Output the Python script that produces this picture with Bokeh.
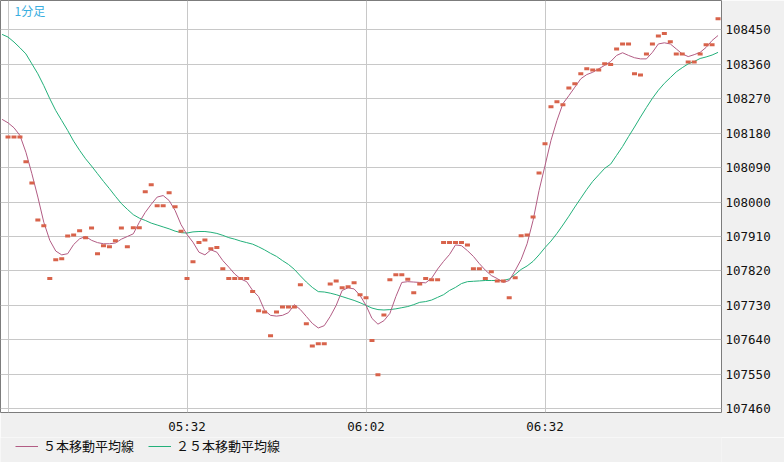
from bokeh.plotting import figure
from bokeh.layouts import column
from bokeh.models import (Range1d, FixedTicker, Legend, LegendItem, Label,
                          ColumnDataSource, BasicTickFormatter)
from bokeh.embed import file_html
from bokeh.resources import INLINE

# ---------------- data ----------------
chart_label = "1分足"
close_start = "05:02"          # first 1-minute bar
ma_start = "05:01"             # moving-average lines start one bar earlier

close = [
    108170, 108170, 108170, 108105, 108050, 107953, 107938, 107800, 107849, 107852,
    107911, 107914, 107925, 107907, 107932, 107865, 107886, 107883, 107899, 107932,
    107883, 107933, 107933, 108027, 108045, 107990, 107990, 108024, 107988, 107924,
    107800, 107844, 107894, 107901, 107878, 107881, 107826, 107800, 107800, 107800,
    107800, 107766, 107716, 107713, 107651, 107713, 107726, 107726, 107726, 107784,
    107682, 107624, 107630, 107630, 107786, 107794, 107776, 107779, 107789, 107758,
    107750, 107638, 107549, 107705, 107797, 107810, 107810, 107798, 107763, 107786,
    107800, 107797, 107797, 107894, 107894, 107894, 107894, 107888, 107826, 107826,
    107800, 107818, 107794, 107794, 107750, 107802, 107912, 107914, 107961, 108076,
    108152, 108249, 108262, 108254, 108298, 108309, 108335, 108348, 108345, 108345,
    108361, 108359, 108400, 108413, 108413, 108335, 108332, 108387, 108413, 108434,
    108440, 108419, 108387, 108387, 108366, 108366, 108387, 108411, 108411, 108479,
]

ma5 = [
    108216,
    108207, 108194, 108174, 108130, 108074, 108013, 107947, 107900, 107872, 107862,
    107865, 107889, 107904, 107910, 107900, 107894, 107891, 107891, 107893, 107903,
    107910, 107917, 107947, 107973, 107994, 108013, 108017, 108004, 107978, 107941,
    107915, 107895, 107869, 107862, 107875, 107869, 107847, 107830, 107812, 107799,
    107792, 107769, 107753, 107717, 107704, 107702, 107704, 107711, 107732, 107719,
    107701, 107683, 107671, 107677, 107701, 107730, 107769, 107776, 107773, 107756,
    107730, 107696, 107681, 107690, 107709, 107753, 107790, 107792, 107791, 107790,
    107789, 107801, 107825, 107845, 107863, 107888, 107886, 107873, 107858, 107839,
    107822, 107808, 107800, 107790, 107795, 107821, 107850, 107891, 107952, 108030,
    108095, 108161, 108213, 108257, 108278, 108300, 108322, 108333, 108339, 108348,
    108357, 108367, 108383, 108390, 108383, 108377, 108374, 108374, 108391, 108413,
    108416, 108413, 108400, 108387, 108380, 108385, 108391, 108404, 108422, 108435,
]

ma25 = [
    108438,
    108431, 108418, 108403, 108387, 108361, 108335, 108304, 108270, 108239, 108213,
    108187, 108159, 108135, 108113, 108094, 108074, 108054, 108035, 108015, 107996,
    107981, 107967, 107958, 107952, 107945, 107940, 107935, 107930, 107924, 107920,
    107919, 107922, 107923, 107923, 107921, 107918, 107913, 107907, 107903, 107898,
    107894, 107890, 107883, 107875, 107866, 107858, 107847, 107837, 107824, 107807,
    107791, 107777, 107766, 107765, 107762, 107758, 107753, 107748, 107743, 107737,
    107730, 107723, 107719, 107718, 107719, 107721, 107724, 107727, 107732, 107738,
    107740, 107744, 107751, 107758, 107769, 107777, 107787, 107792, 107793, 107794,
    107795, 107795, 107795, 107795, 107799, 107811, 107824, 107833, 107845, 107862,
    107881, 107898, 107918, 107940, 107963, 107987, 108010, 108033, 108054, 108071,
    108088, 108099, 108122, 108145, 108171, 108196, 108222, 108247, 108271, 108292,
    108310, 108325, 108340, 108351, 108361, 108367, 108375, 108379, 108384, 108391,
]

y_ticks = [107460, 107550, 107640, 107730, 107820, 107910,
           108000, 108090, 108180, 108270, 108360, 108450]
x_tick_times = ["05:02", "05:32", "06:02", "06:32"]
x_tick_labels = ["", "05:32", "06:02", "06:32"]
legend_labels = ["５本移動平均線", "２５本移動平均線"]

MA5_COLOR = "#b25c84"
MA25_COLOR = "#23b07a"
PANEL_BG = "#f0f0f0"


def to_min(hhmm):
    h, m = hhmm.split(":")
    return int(h) * 60 + int(m)


x_close = [to_min(close_start) + k for k in range(len(close))]
x_ma = [to_min(ma_start) + k for k in range(len(ma5))]

# ---------------- main chart ----------------
p = figure(frame_width=721, frame_height=412, output_backend="svg",
           toolbar_location=None,
           x_range=Range1d(to_min("05:00") + 0.74, to_min("07:01") + 0.58),
           y_range=Range1d(107450.2, 108526.5),
           y_axis_location="right",
           min_border_left=0, min_border_top=0,
           min_border_right=63, min_border_bottom=25)

p.background_fill_color = "white"
p.border_fill_color = PANEL_BG
p.outline_line_color = "#7c7c7c"
p.outline_line_width = 1

xt = FixedTicker(ticks=[to_min(t) for t in x_tick_times])
yt = FixedTicker(ticks=y_ticks)
p.xaxis.ticker = xt
p.xgrid.ticker = xt
p.yaxis.ticker = yt
p.ygrid.ticker = yt
p.yaxis.formatter = BasicTickFormatter(use_scientific=False)
p.xaxis.major_label_overrides = {to_min(t): lab for t, lab in zip(x_tick_times, x_tick_labels)}

for ax in (p.xaxis, p.yaxis):
    ax.axis_line_color = None
    ax.major_tick_line_color = None
    ax.minor_tick_line_color = None
    ax.major_tick_in = 0
    ax.major_tick_out = 0
    ax.minor_tick_in = 0
    ax.minor_tick_out = 0
    ax.major_label_text_font = "DejaVu Sans Mono"
    ax.major_label_text_font_size = "12.5px"
    ax.major_label_text_color = "#111111"
p.xaxis.major_label_standoff = 6
p.yaxis.major_label_standoff = 4

for g in (p.xgrid, p.ygrid):
    g.grid_line_color = "#c8c8c8"
    g.grid_line_width = 1

p.line(x_ma, ma25, line_color=MA25_COLOR, line_width=1)
p.line(x_ma, ma5, line_color=MA5_COLOR, line_width=1)
src = ColumnDataSource(dict(x=x_close, y=close))
p.rect("x", "y", width=5, height=3, width_units="screen", height_units="screen",
       fill_color="#d8634b", line_color=None, source=src)

p.add_layout(Label(x=14, y=411, x_units="screen", y_units="screen",
                   text=chart_label, text_font="Noto Sans CJK JP",
                   text_font_size="12px", text_color="#38aee0",
                   text_baseline="top", text_align="left"))

# ---------------- legend strip below the chart ----------------
leg = figure(width=784, height=25, output_backend="svg", toolbar_location=None,
             x_range=Range1d(0, 1), y_range=Range1d(0, 1),
             min_border=0, outline_line_color=None)
leg.axis.visible = False
leg.grid.visible = False
leg.background_fill_color = PANEL_BG
leg.border_fill_color = PANEL_BG
# same series, only used as legend glyph sources (outside this strip's view)
l5 = leg.line(x_ma, ma5, line_color=MA5_COLOR, line_width=1)
l25 = leg.line(x_ma, ma25, line_color=MA25_COLOR, line_width=1)

legend = Legend(items=[LegendItem(label=legend_labels[0], renderers=[l5]),
                       LegendItem(label=legend_labels[1], renderers=[l25])],
                orientation="horizontal", location=(15, 7),
                margin=0, padding=0, spacing=14,
                glyph_width=23, glyph_height=14, label_height=14,
                label_standoff=5,
                label_text_font="Noto Sans CJK JP",
                label_text_font_size="13px", label_text_color="#111111",
                background_fill_alpha=0, border_line_color=None)
leg.add_layout(legend, "center")

layout = column(p, leg, spacing=0)
open("out.html", "w").write(file_html(layout, INLINE))
